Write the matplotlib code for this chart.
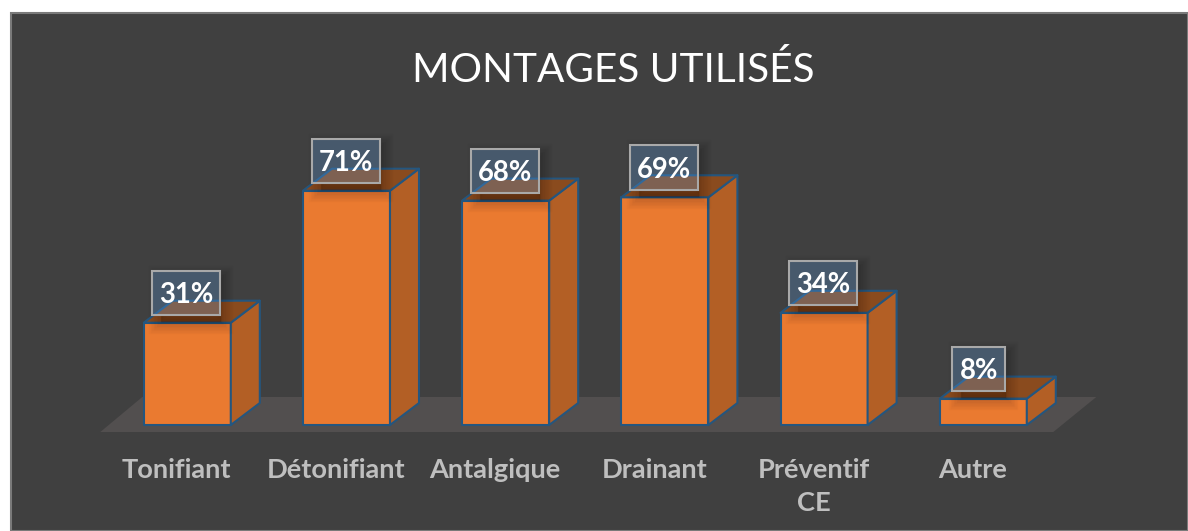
#! /usr/bin/env python3

import numpy as np
import matplotlib
matplotlib.use('Agg')
import matplotlib.pyplot as plt
from matplotlib.patches import Polygon, Rectangle
from matplotlib.path import Path

categories = ['Tonifiant', 'Détonifiant', 'Antalgique', 'Drainant', 'Préventif\nCE', 'Autre']
values = [31, 71, 68, 69, 34, 8]
title = 'MONTAGES UTILISÉS'

W, H = 1188, 531
PANEL = '#404040'
FRONT = '#ea7a30'
SIDE = '#b35f25'
TOP = '#8a4b1e'
EDGE = '#24567f'
FLOOR = '#524f4f'

# pixels per category and per percent
px_x = 159.2
px_y = 3.3
base_px = 425
x0_px = 187.3
axes_bottom_px = 455

plt.rcParams['font.family'] = ['Lato', 'DejaVu Sans']

fig = plt.figure(figsize=(W / 100, H / 100), dpi=100, facecolor='white')

# chart panel, behind the axes
panel = Rectangle((11 / W, 0), (W - 11) / W, (H - 13) / H, transform=fig.transFigure,
	facecolor=PANEL, edgecolor='#7a7a7a', linewidth=1.5, zorder=-1)
fig.patches.append(panel)

ax = fig.add_axes([0, (H - axes_bottom_px) / H, 1, axes_bottom_px / H])
ax.patch.set_visible(False)
for s in ax.spines.values():
	s.set_visible(False)
ax.set_xlim(-x0_px / px_x, (W - x0_px) / px_x)
ax.set_ylim(-(axes_bottom_px - base_px) / px_y, base_px / px_y)
ax.set_yticks([])

x = np.arange(len(values))
ax.set_xticks(x - 10.5 / px_x)
ax.set_xticklabels(categories, fontsize=19.6, fontweight='bold', color='#bfbfbf', linespacing=1.45)
ax.tick_params(axis='x', length=0, pad=2.5)

half = 43.5 / px_x
dx = 29 / px_x
dy = 22 / px_y
xmin, xmax = ax.get_xlim()
ymin, ymax = ax.get_ylim()

# floor
fl = -7 / px_y
ax.add_patch(Polygon([(x[0] - 87 / px_x, fl), (x[-1] + 70 / px_x, fl),
	(x[-1] + 113 / px_x, 28 / px_y), (x[0] - 45 / px_x, 28 / px_y)],
	closed=True, facecolor=FLOOR, edgecolor='none', zorder=1))

for i, v in zip(x, values):
	l, r = i - half, i + half

	ax.add_patch(Rectangle((l, 0), r - l, v, facecolor=FRONT, edgecolor=EDGE, linewidth=1.5,
		joinstyle='round', zorder=3))
	ax.add_patch(Polygon([(r, 0), (r + dx, dy), (r + dx, v + dy), (r, v)], closed=True,
		facecolor=SIDE, edgecolor=EDGE, linewidth=1.5, joinstyle='round', zorder=3))
	ax.add_patch(Polygon([(l, v), (r, v), (r + dx, v + dy), (l + dx, v + dy)], closed=True,
		facecolor=TOP, edgecolor=EDGE, linewidth=1.5, joinstyle='round', zorder=3))

	# value label box, wider for two digits
	bw = (68 if v >= 10 else 53) / px_x
	bh = 44.5 / px_y
	bl = l + 8.5 / px_x if v >= 10 else l + 12.5 / px_x
	bb = v + 7.5 / px_y

	# soft shadow, kept outside the see-through box
	outside = Path(
		[(xmin, ymin), (xmax, ymin), (xmax, ymax), (xmin, ymax), (xmin, ymin),
		 (bl, bb), (bl, bb + bh), (bl + bw, bb + bh), (bl + bw, bb), (bl, bb)],
		[Path.MOVETO, Path.LINETO, Path.LINETO, Path.LINETO, Path.CLOSEPOLY,
		 Path.MOVETO, Path.LINETO, Path.LINETO, Path.LINETO, Path.CLOSEPOLY])
	for g in range(1, 9):
		shadow = Rectangle((bl + 9 / px_x, bb - 7 / px_y), bw - 8 / px_x, bh, facecolor='black', edgecolor='black',
			linewidth=g * 2.2, alpha=0.02, zorder=4)
		ax.add_patch(shadow)
		shadow.set_clip_path(outside, ax.transData)

	ax.add_patch(Rectangle((bl, bb), bw, bh, facecolor='#5ca4f0', alpha=0.25, edgecolor='none', zorder=5))
	ax.add_patch(Rectangle((bl, bb), bw, bh, facecolor='none', edgecolor='#a9a9a9', linewidth=1.5, zorder=6))
	ax.text(bl + bw / 2, bb + bh / 2 - 2 / px_y, '%d%%' % v, ha='center', va='center', color='white',
		fontsize=19.8, fontweight='bold', zorder=7)

fig.text(613 / W, (H - 70) / H, title, ha='center', va='center', color='white', fontsize=29.2)

fig.savefig('out.png', dpi=100, facecolor='white')
